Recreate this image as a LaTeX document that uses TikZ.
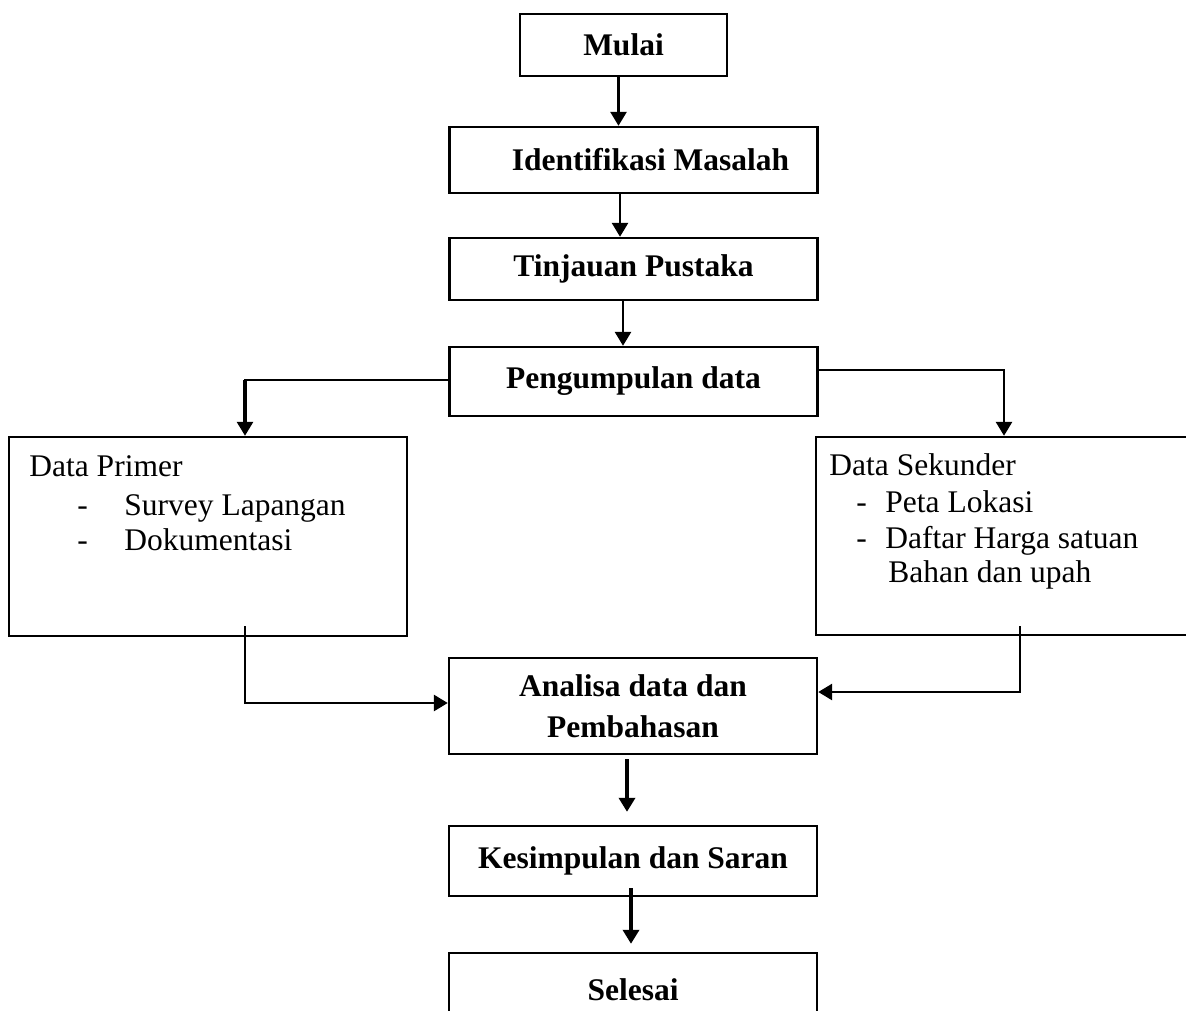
\documentclass[tikz,border=0pt]{standalone}
\usepackage{fontspec}
\setmainfont{Liberation Serif}
\usetikzlibrary{arrows.meta}
\tikzset{
	kotak/.style={draw, line width=1.2pt, minimum width=184pt, inner sep=0pt, align=center,
		font=\fontsize{15.75}{20.5}\selectfont\bfseries},
	panah/.style={line width=1.4pt, -{Triangle[length=7pt,width=8pt]}},
	tebal/.style={line width=2.2pt},
	teks/.style={anchor=base west, inner sep=0pt, font=\fontsize{15.75}{19}\selectfont}
}
\begin{document}
\begin{tikzpicture}[x=0.5pt, y=-0.5pt, line join=miter]
	\clip (0,0) rectangle (1186,1010);
	% Kotak alur utama
	\node[kotak, minimum width=103.5pt, minimum height=31pt] (mulai) at (623.5,45) {Mulai};
	\node[kotak, minimum height=33pt] (identifikasi) at (633.5,160) {\hspace*{17pt}Identifikasi Masalah};
	\node[kotak, minimum height=31pt] (tinjauan) at (633.5,269) {Tinjauan Pustaka};
	\node[kotak, minimum height=34.5pt] (pengumpulan) at (633.5,381.5) {Pengumpulan data};
	\node[kotak, minimum height=48pt] (analisa) at (633,706) {Analisa data dan\\Pembahasan};
	\node[kotak, minimum height=35pt] (kesimpulan) at (633,861) {Kesimpulan dan Saran};
	\node[kotak, minimum height=37pt] (selesai) at (633,990) {Selesai};
	% Kotak data kiri dan kanan
	\node[draw, line width=1.2pt, minimum width=199pt, minimum height=99.5pt] (primer) at (208,536.5) {};
	\node[draw, line width=1.2pt, minimum width=200pt, minimum height=99pt] (sekunder) at (1016,536) {};
	% Isi kotak data
	\node[teks] (primer0) at (29,476) {Data Primer};
	\node[teks] (primer1a) at (77,515) {-};
	\node[teks] (primer1) at (124,515) {Survey Lapangan};
	\node[teks] (primer2a) at (77,550) {-};
	\node[teks] (primer2) at (124,550) {Dokumentasi};
	\node[teks] (sekunder0) at (829,475) {Data Sekunder};
	\node[teks] (sekunder1a) at (856,512) {-};
	\node[teks] (sekunder1) at (885,512) {Peta Lokasi};
	\node[teks] (sekunder2a) at (856,548) {-};
	\node[teks] (sekunder2) at (885,548) {Daftar Harga satuan};
	\node[teks] (sekunder3) at (888,582) {Bahan dan upah};
	% Panah
	\draw[panah] ([xshift=-2.5pt]mulai.south) -- ([xshift=-2.5pt]mulai.south |- identifikasi.north);
	\draw[panah] ([xshift=-6.75pt]identifikasi.south) -- ([xshift=-6.75pt]identifikasi.south |- tinjauan.north);
	\draw[panah] ([xshift=-5.25pt]tinjauan.south) -- ([xshift=-5.25pt]tinjauan.south |- pengumpulan.north);
	\draw[panah] ([yshift=0.75pt]pengumpulan.west) -| ([xshift=18.5pt]primer.north);
	\draw[tebal] ([yshift=0.75pt]pengumpulan.west -| primer.north) ++(18.5pt,0) -- ([xshift=18.5pt,yshift=5pt]primer.north);
	\draw[panah] ([yshift=5.75pt]pengumpulan.east) -| ([xshift=-6pt]sekunder.north);
	\draw[panah] ([xshift=18.5pt,yshift=5.5pt]primer.south) |- ([yshift=1.5pt]analisa.west);
	\draw[panah] ([xshift=2pt,yshift=5pt]sekunder.south) |- ([yshift=7pt]analisa.east);
	\draw[panah, tebal] ([xshift=-3pt,yshift=-2pt]analisa.south) -- ([xshift=-3pt,yshift=6.5pt]kesimpulan.north);
	\draw[panah, tebal] ([xshift=-1pt,yshift=4.5pt]kesimpulan.south) -- ([xshift=-1pt,yshift=4pt]selesai.north);
\end{tikzpicture}
\end{document}
